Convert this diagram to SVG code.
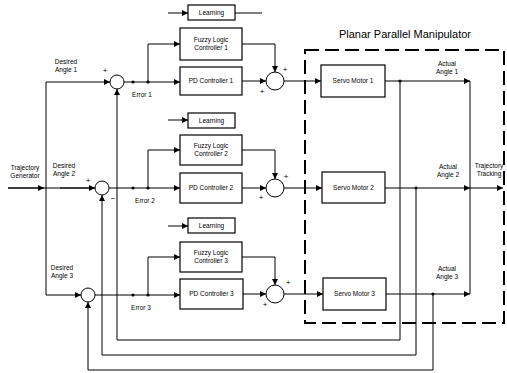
<svg xmlns="http://www.w3.org/2000/svg" width="507" height="373" viewBox="0 0 507 373">
<style>
.bx{fill:#fff;stroke:#000;stroke-width:1.2}
.sj{fill:none;stroke:#000;stroke-width:1}
.t{font-family:"Liberation Sans",Arial,sans-serif;font-size:6.5px;fill:#000;text-anchor:middle}
.ln{fill:none;stroke:#000;stroke-width:1}
.ar{fill:none;stroke:#000;stroke-width:1;marker-end:url(#a)}
.dot{fill:#000}
.sg{font-family:"Liberation Sans",Arial,sans-serif;font-size:8px;fill:#000;text-anchor:middle}
</style>
<defs>
<marker id="a" markerUnits="userSpaceOnUse" markerWidth="6" markerHeight="6" refX="6" refY="3" orient="auto"><path d="M0,0 L6,3 L0,6 z" fill="#000"/></marker>
</defs>
<rect width="507" height="373" fill="#fff"/>

<g id="manipulator">
<rect x="305" y="50" width="199" height="273" fill="none" stroke="#000" stroke-width="2" stroke-dasharray="14 6"/>
<text x="405" y="38" font-family="Liberation Sans,Arial,sans-serif" font-size="11" text-anchor="middle">Planar Parallel Manipulator</text>
</g>

<g id="labels">
<text class="t" x="25" y="170">Trajectory</text><text class="t" x="25" y="178">Generator</text>
<text class="t" x="66" y="64">Desired</text><text class="t" x="66" y="72">Angle 1</text>
<text class="t" x="64" y="168">Desired</text><text class="t" x="64" y="176">Angle 2</text>
<text class="t" x="62" y="270">Desired</text><text class="t" x="62" y="278">Angle 3</text>
<text class="t" x="142" y="97">Error 1</text>
<text class="t" x="145" y="203">Error 2</text>
<text class="t" x="141" y="310">Error 3</text>
<text class="t" x="447" y="66">Actual</text><text class="t" x="447" y="74">Angle 1</text>
<text class="t" x="448" y="169">Actual</text><text class="t" x="448" y="177">Angle 2</text>
<text class="t" x="447" y="271">Actual</text><text class="t" x="447" y="279">Angle 3</text>
<text class="t" x="489" y="168">Trajectory</text><text class="t" x="489" y="176">Tracking</text>
<text class="sg" x="105" y="73">+</text>
<text class="sg" x="88" y="183">+</text>
<text class="sg" x="113" y="201">−</text>
<text class="sg" x="262" y="94">+</text><text class="sg" x="285" y="72">+</text>
<text class="sg" x="261" y="200">+</text><text class="sg" x="286" y="179">+</text>
<text class="sg" x="265" y="307">+</text><text class="sg" x="288" y="285">+</text>
</g>

<g id="sum1"><circle class="sj" cx="117" cy="82" r="7"/></g>
<g id="sum2"><circle class="sj" cx="102" cy="188" r="7"/></g>
<g id="sum3"><circle class="sj" cx="88" cy="295" r="7"/></g>
<g id="sumR1"><circle class="sj" cx="275" cy="81" r="9"/></g>
<g id="sumR2"><circle class="sj" cx="275" cy="188" r="9"/></g>
<g id="sumR3"><circle class="sj" cx="275" cy="294" r="9"/></g>

<g id="learning1"><rect class="bx" x="188" y="5" width="47" height="15"/><text class="t" x="211.5" y="15">Learning</text></g>
<g id="fuzzy1"><rect class="bx" x="180" y="28" width="62" height="32"/><text class="t" x="211" y="42">Fuzzy Logic</text><text class="t" x="211" y="50">Controller 1</text></g>
<g id="pd1"><rect class="bx" x="180" y="67" width="62" height="28"/><text class="t" x="211" y="83">PD Controller 1</text></g>

<g id="learning2"><rect class="bx" x="188" y="113" width="47" height="15"/><text class="t" x="211.5" y="123">Learning</text></g>
<g id="fuzzy2"><rect class="bx" x="180" y="135" width="62" height="30"/><text class="t" x="211" y="148">Fuzzy Logic</text><text class="t" x="211" y="156">Controller 2</text></g>
<g id="pd2"><rect class="bx" x="180" y="173" width="62" height="30"/><text class="t" x="211" y="190">PD Controller 2</text></g>

<g id="learning3"><rect class="bx" x="188" y="218" width="47" height="15"/><text class="t" x="211.5" y="228">Learning</text></g>
<g id="fuzzy3"><rect class="bx" x="180" y="242" width="62" height="30"/><text class="t" x="211" y="255">Fuzzy Logic</text><text class="t" x="211" y="263">Controller 3</text></g>
<g id="pd3"><rect class="bx" x="180" y="279" width="63" height="30"/><text class="t" x="211.5" y="296">PD Controller 3</text></g>

<g id="servo1"><rect class="bx" x="321" y="65" width="64" height="32"/><text class="t" x="353" y="83">Servo Motor 1</text></g>
<g id="servo2"><rect class="bx" x="322" y="172" width="63" height="31"/><text class="t" x="353.5" y="190">Servo Motor 2</text></g>
<g id="servo3"><rect class="bx" x="323" y="278" width="63" height="32"/><text class="t" x="354.5" y="296">Servo Motor 3</text></g>

<g id="connectors">
<!-- trajectory generator bus -->
<path class="ln" d="M8,188 H95"/>
<path class="ar" d="M8,188 H44"/>
<path class="ln" d="M46,82 V295"/>
<path class="ar" d="M46,82 H110"/>
<path class="ar" d="M60,188 H95"/>
<path class="ar" d="M46,295 H81"/>
<!-- channel 1 -->
<path class="ar" d="M124,82 H180"/>
<path class="ar" d="M148,82 V44 H180"/>
<circle class="dot" cx="133" cy="82" r="1.6"/><circle class="dot" cx="148" cy="82" r="1.6"/>
<path class="ar" d="M168,13 H188"/>
<path class="ln" d="M235,13 H262"/>
<path class="ar" d="M242,81 H266"/>
<path class="ar" d="M242,44 H275 V72"/>
<path class="ar" d="M284,81 H321"/>
<!-- channel 2 -->
<path class="ar" d="M109,188 H180"/>
<path class="ar" d="M148,188 V150 H180"/>
<circle class="dot" cx="133" cy="188" r="1.6"/><circle class="dot" cx="148" cy="188" r="1.6"/>
<path class="ar" d="M168,120 H188"/>
<path class="ar" d="M242,188 H266"/>
<path class="ar" d="M242,150 H275 V179"/>
<path class="ar" d="M284,188 H322"/>
<!-- channel 3 -->
<path class="ar" d="M95,295 H180"/>
<path class="ar" d="M148,295 V257 H180"/>
<circle class="dot" cx="133" cy="295" r="1.6"/><circle class="dot" cx="148" cy="295" r="1.6"/>
<path class="ar" d="M168,226 H188"/>
<path class="ar" d="M243,294 H266"/>
<path class="ar" d="M242,257 H275 V285"/>
<path class="ar" d="M284,294 H323"/>
<!-- outputs -->
<path class="ar" d="M385,81 H470"/>
<path class="ar" d="M385,188 H470"/>
<path class="ar" d="M386,294 H470"/>
<path class="ln" d="M470,81 V294"/>
<path class="ar" d="M470,188 H503"/>
<circle class="dot" cx="400" cy="81" r="1.6"/>
<circle class="dot" cx="416" cy="188" r="1.6"/>
<circle class="dot" cx="433" cy="294" r="1.6"/>
<!-- feedback -->
<path class="ar" d="M400,81 V340 H117 V89"/>
<path class="ar" d="M416,188 V355 H102 V195"/>
<path class="ar" d="M433,294 V370 H88 V302"/>
</g>
</svg>
